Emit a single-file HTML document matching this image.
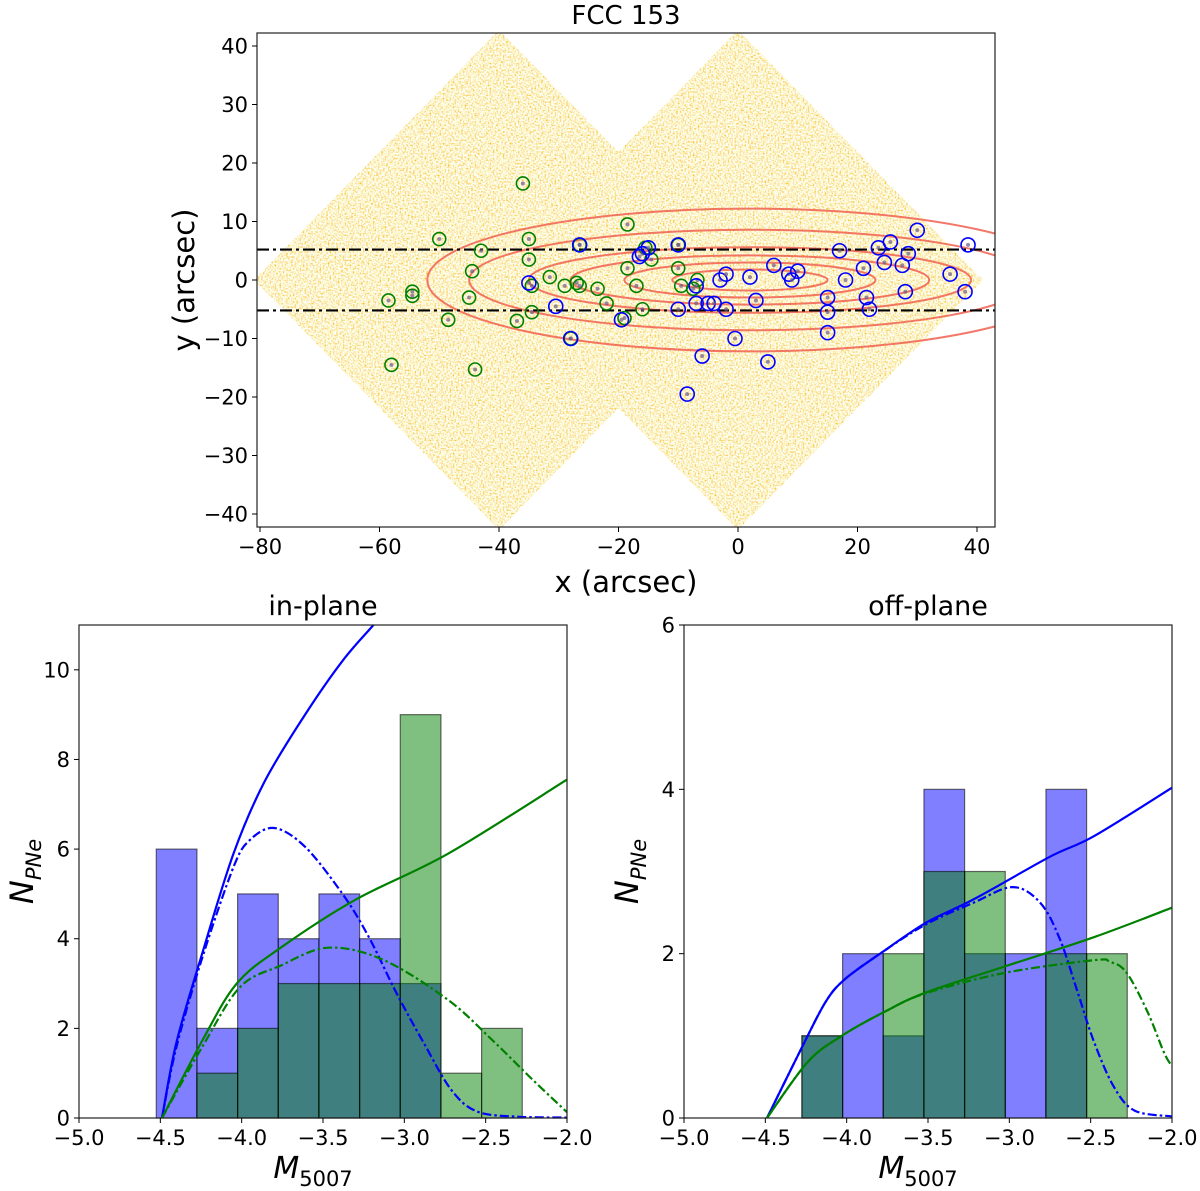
<!DOCTYPE html>
<html><head><meta charset="utf-8"><style>
body{margin:0;background:#fff;}
svg{display:block;font-family:"DejaVu Sans","Liberation Sans",sans-serif;}
</style></head><body>
<svg id="fig" width="1200" height="1191" viewBox="0 0 1200 1191" xmlns="http://www.w3.org/2000/svg">
<defs>
<filter id="noise" x="0" y="0" width="100%" height="100%">
<feTurbulence type="fractalNoise" baseFrequency="0.6" numOctaves="1" seed="3" result="t"/>
<feColorMatrix in="t" type="matrix" values="0 0 0 0 0.97  1.3 0 0 0 0.26  2.2 0 0 0 -0.5  0 0 0 0 1"/>
</filter>
<clipPath id="topclip"><rect x="257" y="33" width="738" height="494"/></clipPath>
<clipPath id="diaclip"><polygon points="499,30 744,280 499,530 254,280"/><polygon points="738,30 983,280 738,530 493,280"/></clipPath>
<clipPath id="lclip"><rect x="79" y="625" width="488" height="494"/></clipPath>
<clipPath id="rclip"><rect x="684" y="625" width="488" height="494"/></clipPath>
</defs>
<g id="topPanel"></g>
<g id="left"></g>
<g id="right"></g>
</svg>
<script>
// ---- top map data ----
const xTicksTop = [-80,-60,-40,-20,0,20,40];
const yTicksTop = [-40,-30,-20,-10,0,10,20,30,40];
const greenX = [-36,-50,-35,-43,-35,-18.5,-26.5,-44.5,-54.5,-54.5,-58.5,-45,-48.5,-37,-34.5,-44,-58,-31.5,-29,-27,-23.5,-22,-18.5,-17,-14.5,-10,-9.5,-7.5,-6.8,-15.5,-26.5,-34.5,-28,-19,-10,-16];
const greenY = [16.5,7,7,5,3.5,9.5,6,1.5,-2,-2.7,-3.5,-3,-6.8,-7,-5.5,-15.3,-14.5,0.5,-1,-0.5,-1.5,-4,2,-1,3.5,2,-1,-1.5,0,5.5,-1,-1,-10,-6.5,6,-5];
const blueX = [-26.5,-35,-30.5,-28,-19.5,-16,-15,-10,-10,-7,-7,-6,-5,-3,-2,-2,-0.5,2,3,5,6,8.5,9,10,15,15,15,17,18,21,21.5,22,23.5,24.5,25.5,27.5,28,28.5,30,35.5,38,38.5,-8.5,-4,-16.5];
const blueY = [6,-0.5,-4.5,-10,-6.8,4.5,5.5,6,-5,-1,-4,-13,-4,0,1,-5,-10,0.5,-3.5,-14,2.5,1,0,1.5,-3,-5.5,-9,5,0,2,-3,-5,5.5,3,6.5,2.5,-2,4.5,8.5,1,-2,6,-19.5,-4,4];
const contourRx = [54,47,37,30,21,13];
const contourRy = [12.2,8.6,5.6,4.2,3.0,1.8];
const cutLines = [5.2,-5.2];
// ---- histogram data ----
const binEdges = [-4.525,-4.275,-4.025,-3.775,-3.525,-3.275,-3.025,-2.775,-2.525,-2.275];
const inBlue = [6,2,5,4,5,4,3,0,0];
const inGreen = [0,1,2,3,3,3,9,1,2];
const offBlue = [0,1,2,1,4,2,2,4,0];
const offGreen = [0,1,0,2,3,3,0,2,2];
const mTicks = [-5.0,-4.5,-4.0,-3.5,-3.0,-2.5,-2.0];
const mTickLabels = ["\u22125.0","\u22124.5","\u22124.0","\u22123.5","\u22123.0","\u22122.5","\u22122.0"];
const inYTicks = [0,2,4,6,8,10];
const offYTicks = [0,2,4,6];
// in-plane curves
const inBlueSolidM = [-4.49,-4.4,-4.24,-4.05,-3.86,-3.61,-3.38,-3.19,-3.0];
const inBlueSolidN = [0,1.7,3.7,5.9,7.5,9.0,10.2,11.0,11.8];
const inBlueDashM = [-4.49,-4.4,-4.24,-4.05,-3.95,-3.8,-3.61,-3.38,-3.22,-3.05,-2.88,-2.71,-2.55,-2.3,-2.0];
const inBlueDashN = [0,1.6,3.6,5.6,6.2,6.47,6.05,5.0,4.05,2.8,1.67,0.62,0.14,0.03,0.01];
const inGreenSolidM = [-4.49,-4.24,-4.03,-3.76,-3.3,-2.73,-2.0];
const inGreenSolidN = [0,1.74,3.0,3.8,4.87,5.9,7.55];
const inGreenDashM = [-4.49,-4.24,-4.01,-3.76,-3.47,-3.13,-2.73,-2.46,-2.21,-2.0];
const inGreenDashN = [0,1.6,2.92,3.4,3.8,3.53,2.63,1.74,0.85,0.13];
// off-plane curves
const offBlueSolidM = [-4.49,-4.28,-4.13,-4.01,-3.78,-3.51,-3.22,-2.75,-2.48,-2.0];
const offBlueSolidN = [0,0.84,1.41,1.69,2.02,2.38,2.66,3.18,3.43,4.02];
const offBlueDashM = [-4.49,-4.28,-4.13,-4.01,-3.78,-3.51,-3.22,-2.98,-2.81,-2.69,-2.58,-2.48,-2.36,-2.23,-2.0];
const offBlueDashN = [0,0.84,1.41,1.69,2.02,2.36,2.62,2.81,2.62,2.18,1.53,0.93,0.39,0.09,0.02];
const offGreenSolidM = [-4.49,-4.24,-4.03,-3.76,-3.51,-3.02,-2.48,-2.0];
const offGreenSolidN = [0,0.68,1.0,1.3,1.53,1.85,2.2,2.56];
const offGreenDashM = [-4.49,-4.24,-4.03,-3.76,-3.51,-3.02,-2.48,-2.38,-2.28,-2.15,-2.05,-2.0];
const offGreenDashN = [0,0.68,1.0,1.3,1.52,1.77,1.92,1.9,1.77,1.29,0.8,0.63];

const NS = "http://www.w3.org/2000/svg";
function mk(tag, attrs, parent){const e=document.createElementNS(NS,tag);for(const k in attrs)e.setAttribute(k,attrs[k]);parent.appendChild(e);return e;}
function smoothPath(pts){
  let d='M'+pts[0][0].toFixed(1)+','+pts[0][1].toFixed(1);
  for(let i=0;i<pts.length-1;i++){
    const p0=pts[Math.max(i-1,0)],p1=pts[i],p2=pts[i+1],p3=pts[Math.min(i+2,pts.length-1)];
    const c1=[p1[0]+(p2[0]-p0[0])/6,p1[1]+(p2[1]-p0[1])/6];
    const c2=[p2[0]-(p3[0]-p1[0])/6,p2[1]-(p3[1]-p1[1])/6];
    d+=' C'+c1[0].toFixed(1)+','+c1[1].toFixed(1)+' '+c2[0].toFixed(1)+','+c2[1].toFixed(1)+' '+p2[0].toFixed(1)+','+p2[1].toFixed(1);
  }
  return d;
}

// ---- top panel ----
const topG = document.getElementById('topPanel');
const tx = v => 738 + v*5.975;
const ty = v => 280 - v*5.85;
const tL=257,tR=995,tT=33,tB=527;
const imgG = mk('g',{'clip-path':'url(#topclip)'},topG);


const dg = mk('g',{'clip-path':'url(#diaclip)'},imgG);
mk('rect',{x:250,y:30,width:750,height:500,fill:'#f2d78a',filter:'url(#noise)'},dg);
for(let i=0;i<contourRx.length;i++){
  const e=mk('ellipse',{cx:tx(2),cy:ty(0),rx:contourRx[i]*5.975,ry:contourRy[i]*5.85,fill:'none',stroke:'#f0604f','stroke-width':2,opacity:0.85},imgG);
  
  
}
for(const c of cutLines){
  const l=mk('line',{x1:tL,x2:tR,y1:ty(c),y2:ty(c),stroke:'#000','stroke-width':2.2,'stroke-dasharray':'12,4,3,4'},imgG);
  
  
}
for(let i=0;i<greenX.length;i++){
  mk('circle',{cx:tx(greenX[i]),cy:ty(greenY[i]),r:2,fill:'#6a5a8a',opacity:0.7},imgG);
  const c=mk('circle',{cx:tx(greenX[i]),cy:ty(greenY[i]),r:6.5,fill:'none',stroke:'#008000','stroke-width':1.6},imgG);
  
  
}
for(let i=0;i<blueX.length;i++){
  mk('circle',{cx:tx(blueX[i]),cy:ty(blueY[i]),r:2,fill:'#6a5a8a',opacity:0.7},imgG);
  const c=mk('circle',{cx:tx(blueX[i]),cy:ty(blueY[i]),r:7,fill:'none',stroke:'#0000ff','stroke-width':1.6},imgG);
  
  
}
const tf=mk('rect',{x:tL,y:tT,width:tR-tL,height:tB-tT,fill:'none',stroke:'#222','stroke-width':1.2},topG);


for(const v of xTicksTop){
  mk('line',{x1:tx(v),x2:tx(v),y1:tB,y2:tB+5,stroke:'#000'},topG);
  const t=mk('text',{x:tx(v),y:tB+27,'text-anchor':'middle','font-size':21},topG);
  t.textContent=(v<0?'\u2212':'')+Math.abs(v);
  
  
}
for(const v of yTicksTop){
  mk('line',{x1:tL-5,x2:tL,y1:ty(v),y2:ty(v),stroke:'#000'},topG);
  const t=mk('text',{x:tL-9,y:ty(v)+7.5,'text-anchor':'end','font-size':21},topG);
  t.textContent=(v<0?'\u2212':'')+Math.abs(v);
  
  
}
let tl=mk('text',{x:626,y:24,'text-anchor':'middle','font-size':26},topG);tl.textContent='FCC 153';


tl=mk('text',{x:626,y:592,'text-anchor':'middle','font-size':29},topG);tl.textContent='x (arcsec)';


tl=mk('text',{x:0,y:0,'text-anchor':'middle','font-size':29,transform:'translate(194,280) rotate(-90)'},topG);tl.textContent='y (arcsec)';



// ---- histogram panels ----
function panel(gid, L, R, T, B, yMax, yTicks, blue, green, curves, title, clip){
  const g=document.getElementById(gid);
  const sx = m => L + (m+5)*(R-L)/3;
  const sy = n => B - n*(B-T)/yMax;
  const cg = mk('g',{'clip-path':'url('+clip+')'},g);
  const series=[[blue,'rgba(0,0,255,0.5)','bar-blue'],[green,'rgba(0,128,0,0.5)','bar-green']];
  for(const [vals,col,nm] of series){
    for(let i=0;i<vals.length;i++){
      if(!vals[i]) continue;
      const r=mk('rect',{x:sx(binEdges[i]),y:sy(vals[i]),width:sx(binEdges[i+1])-sx(binEdges[i]),height:sy(0)-sy(vals[i]),fill:col,stroke:'rgba(0,0,0,0.55)','stroke-width':1.2},cg);
      
      
    }
  }
  for(const [ms,ns,col,dash,nm] of curves){
    const d=smoothPath(ms.map((m,i)=>[sx(m),sy(ns[i])]));
    const p=mk('path',{d:d,fill:'none',stroke:col,'stroke-width':2.2,'stroke-linejoin':'round'},cg);
    if(dash) p.setAttribute('stroke-dasharray','9,3,2.5,3');
    
    
  }
  const f=mk('rect',{x:L,y:T,width:R-L,height:B-T,fill:'none',stroke:'#222','stroke-width':1.2},g);
  
  
  mTicks.forEach((m,i)=>{
    mk('line',{x1:sx(m),x2:sx(m),y1:B,y2:B+5,stroke:'#000'},g);
    const tt=mk('text',{x:sx(m),y:B+27,'text-anchor':'middle','font-size':21},g);
    tt.textContent=mTickLabels[i];
    
    
  });
  for(const v of yTicks){
    mk('line',{x1:L-5,x2:L,y1:sy(v),y2:sy(v),stroke:'#000'},g);
    const tt=mk('text',{x:L-9,y:sy(v)+7.5,'text-anchor':'end','font-size':21},g);
    tt.textContent=v;
    
    
  }
  let tt=mk('text',{x:(L+R)/2,y:T-10,'text-anchor':'middle','font-size':27},g);tt.textContent=title;
  
  
  tt=mk('text',{x:(L+R)/2-10,y:1178,'text-anchor':'middle','font-size':30,'font-style':'italic'},g);
  tt.textContent='M';
  const s1=mk('tspan',{'font-size':21,dy:8,'font-style':'normal'},tt);s1.textContent='5007';
  
  
  tt=mk('text',{x:0,y:0,'text-anchor':'middle','font-size':32,'font-style':'italic',transform:'translate('+(L-46)+','+((T+B)/2)+') rotate(-90)'},g);
  tt.textContent='N';
  const s2=mk('tspan',{'font-size':21,dy:8},tt);s2.textContent='PNe';
  
  
}
panel('left',79,567,625,1118,11,inYTicks,inBlue,inGreen,[
  [inBlueSolidM,inBlueSolidN,'#0000ff',false,'blue-model-line'],
  [inBlueDashM,inBlueDashN,'#0000ff',true,'blue-incomplete-line'],
  [inGreenSolidM,inGreenSolidN,'#008000',false,'green-model-line'],
  [inGreenDashM,inGreenDashN,'#008000',true,'green-incomplete-line']],'in-plane','#lclip');
panel('right',684,1172,625,1118,6,offYTicks,offBlue,offGreen,[
  [offBlueSolidM,offBlueSolidN,'#0000ff',false,'blue-model-line'],
  [offBlueDashM,offBlueDashN,'#0000ff',true,'blue-incomplete-line'],
  [offGreenSolidM,offGreenSolidN,'#008000',false,'green-model-line'],
  [offGreenDashM,offGreenDashN,'#008000',true,'green-incomplete-line']],'off-plane','#rclip');
</script>
</body></html>
